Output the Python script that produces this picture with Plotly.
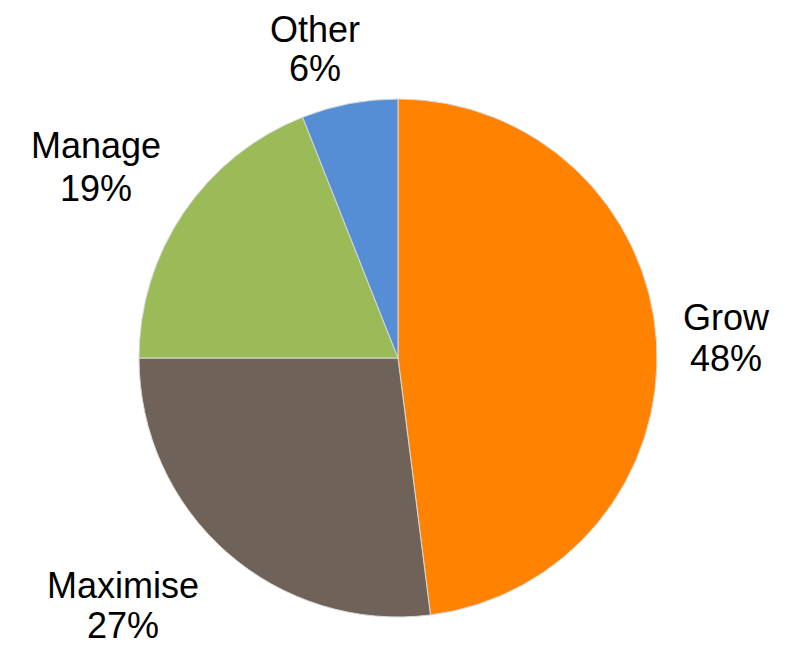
import plotly.graph_objects as go

labels = ["Grow", "Maximise", "Manage", "Other"]
values = [48, 27, 19, 6]
colors = ["#FF8300", "#6F6359", "#9BBB59", "#558ED5"]

# ---- layout / styling (not data) ----
W, H = 792, 647
BODY = 8                      # default page body margin in the browser
L, T, SIZE = 131, 91, 518     # plot area (square) in figure pixels
R = W - L - SIZE
B = H - T - SIZE
FONT = dict(family="Liberation Sans, Arial, sans-serif", size=36, color="#000000")

# Excel-style data label placement: (x centre, name-line y, percent-line y) in page pixels
label_pos = {
    "Grow": (726, 317, 358),
    "Maximise": (123, 585, 625),
    "Manage": (96, 145, 188),
    "Other": (315, 30, 69),
}

total = sum(values)
annotations = []
for lab, val in zip(labels, values):
    px, py_name, py_pct = label_pos[lab]
    for txt, py in ((lab, py_name), (f"{round(100 * val / total)}%", py_pct)):
        annotations.append(dict(
            text=txt,
            x=(px - BODY - L) / SIZE,
            y=1 - (py - BODY - T) / SIZE,
            xref="paper", yref="paper",
            xanchor="center", yanchor="middle",
            align="center",
            showarrow=False,
            font=FONT,
        ))

fig = go.Figure(go.Pie(
    labels=labels,
    values=values,
    sort=False,
    direction="clockwise",
    rotation=0,
    marker=dict(colors=colors, line=dict(color="#D9D9D9", width=1)),
    textinfo="none",
    showlegend=False,
    hoverinfo="label+percent",
))

fig.update_layout(
    width=W,
    height=H,
    margin=dict(l=L, r=R, t=T, b=B, autoexpand=False),
    paper_bgcolor="white",
    plot_bgcolor="white",
    annotations=annotations,
)

fig.write_html("out.html")
